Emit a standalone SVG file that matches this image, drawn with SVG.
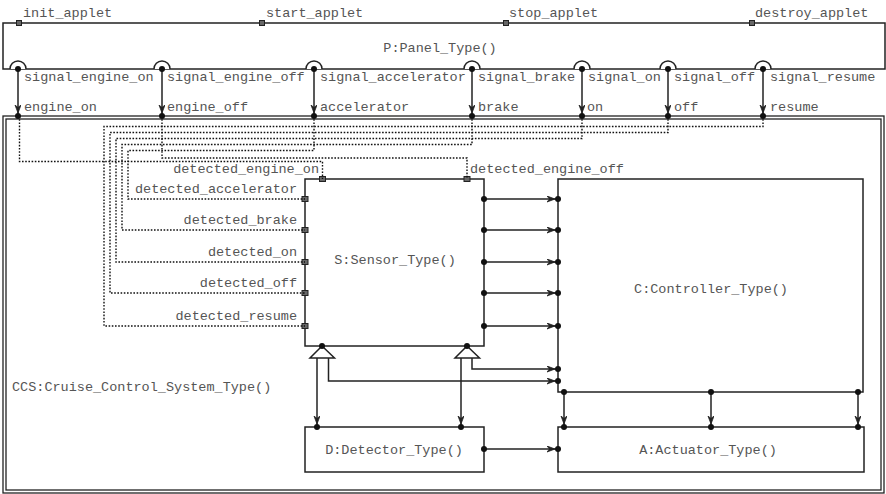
<svg xmlns="http://www.w3.org/2000/svg" width="886" height="494" viewBox="0 0 886 494">
<style>
text{font-family:"Liberation Mono","Courier New",monospace;font-size:13.5px;fill:#555}
.box{fill:#fff;stroke:#222;stroke-width:1.5}
.ln{fill:none;stroke:#222;stroke-width:1.5}
.dt{fill:none;stroke:#111;stroke-width:1.4;stroke-dasharray:1.6 1.6}
.dot{fill:#111}
.sq{fill:#666;stroke:#222;stroke-width:1}
.arc{fill:#fff;stroke:#222;stroke-width:1.5}
.end{text-anchor:end}
.mid{text-anchor:middle}
</style>
<defs>
<marker id="arr" markerUnits="userSpaceOnUse" markerWidth="14" markerHeight="8" refX="11" refY="3" orient="auto">
<path d="M0,0 L8,3 L0,6 L2.5,3 z" fill="#222" stroke="#222" stroke-width="0.8"/>
</marker>
</defs>

<g id="CCS">
<rect x="3" y="116" width="881" height="377" fill="#fff" stroke="#222" stroke-width="1.3"/>
<rect x="6" y="119" width="875" height="371" fill="none" stroke="#222" stroke-width="1.3"/>
<text x="12" y="391">CCS:Cruise_Control_System_Type()</text>
</g>

<g id="P">
<rect class="box" x="3" y="23" width="882" height="46"/>
<text class="mid" x="440" y="52">P:Panel_Type()</text>
<rect class="sq" x="16.5" y="20.5" width="5" height="5"/>
<rect class="sq" x="259.5" y="20.5" width="5" height="5"/>
<rect class="sq" x="503.5" y="20.5" width="5" height="5"/>
<rect class="sq" x="749.5" y="20.5" width="5" height="5"/>
<text x="23" y="17">init_applet</text>
<text x="266" y="17">start_applet</text>
<text x="509" y="17">stop_applet</text>
<text x="755" y="17">destroy_applet</text>
<path class="arc" d="M10,69 A8,8 0 0 1 26,69"/>
<path class="arc" d="M154,69 A8,8 0 0 1 170,69"/>
<path class="arc" d="M306,69 A8,8 0 0 1 322,69"/>
<path class="arc" d="M464,69 A8,8 0 0 1 480,69"/>
<path class="arc" d="M574,69 A8,8 0 0 1 590,69"/>
<path class="arc" d="M660,69 A8,8 0 0 1 676,69"/>
<path class="arc" d="M755,69 A8,8 0 0 1 771,69"/>
<text x="24" y="81">signal_engine_on</text>
<text x="167" y="81">signal_engine_off</text>
<text x="320" y="81">signal_accelerator</text>
<text x="478" y="81">signal_brake</text>
<text x="588" y="81">signal_on</text>
<text x="674" y="81">signal_off</text>
<text x="770" y="81">signal_resume</text>
</g>

<g id="S">
<rect class="box" x="305" y="179" width="179" height="167"/>
<text class="mid" x="395" y="264">S:Sensor_Type()</text>
<rect class="sq" x="319.5" y="176.5" width="6" height="5"/>
<rect class="sq" x="464" y="176.5" width="6" height="5"/>
<rect class="sq" x="302" y="196.5" width="6" height="5"/>
<rect class="sq" x="302" y="227.5" width="6" height="5"/>
<rect class="sq" x="302" y="259.5" width="6" height="5"/>
<rect class="sq" x="302" y="290.5" width="6" height="5"/>
<rect class="sq" x="302" y="323.5" width="6" height="5"/>
<text class="end" x="319" y="173">detected_engine_on</text>
<text x="470" y="173">detected_engine_off</text>
<text class="end" x="297" y="193">detected_accelerator</text>
<text class="end" x="297" y="224">detected_brake</text>
<text class="end" x="297" y="256">detected_on</text>
<text class="end" x="297" y="287">detected_off</text>
<text class="end" x="297" y="320">detected_resume</text>
<path class="arc" d="M322,346 L334.5,358 L310,358 z"/>
<path class="arc" d="M467,346 L479.5,358 L455,358 z"/>
</g>

<g id="C">
<rect class="box" x="558" y="179" width="305" height="213"/>
<text class="mid" x="711" y="293">C:Controller_Type()</text>
</g>

<g id="D">
<rect class="box" x="305" y="427" width="179" height="45"/>
<text class="mid" x="394" y="454">D:Detector_Type()</text>
</g>

<g id="A">
<rect class="box" x="558" y="427" width="306" height="45"/>
<text class="mid" x="708" y="454">A:Actuator_Type()</text>
</g>

<g id="connectors">
<path class="ln" d="M18,69 V116" marker-end="url(#arr)"/>
<path class="ln" d="M162,69 V116" marker-end="url(#arr)"/>
<path class="ln" d="M314,69 V116" marker-end="url(#arr)"/>
<path class="ln" d="M472,69 V116" marker-end="url(#arr)"/>
<path class="ln" d="M582,69 V116" marker-end="url(#arr)"/>
<path class="ln" d="M668,69 V116" marker-end="url(#arr)"/>
<path class="ln" d="M763,69 V116" marker-end="url(#arr)"/>
<text x="24" y="111">engine_on</text>
<text x="167" y="111">engine_off</text>
<text x="320" y="111">accelerator</text>
<text x="478" y="111">brake</text>
<text x="587" y="111">on</text>
<text x="674" y="111">off</text>
<text x="770" y="111">resume</text>

<path class="dt" d="M19.5,116 V161.5 H322.5 V179"/>
<path class="dt" d="M162,116 V158 H467 V179"/>
<path class="dt" d="M314,116 V150.5 H128 V199 H305"/>
<path class="dt" d="M472,116 V144.5 H122 V230 H305"/>
<path class="dt" d="M582,116 V138.5 H116 V262 H305"/>
<path class="dt" d="M668,116 V132.5 H110 V293 H305"/>
<path class="dt" d="M763,116 V126.5 H104 V326 H305"/>

<path class="ln" d="M484,199 H558" marker-end="url(#arr)"/>
<path class="ln" d="M484,230 H558" marker-end="url(#arr)"/>
<path class="ln" d="M484,262 H558" marker-end="url(#arr)"/>
<path class="ln" d="M484,293 H558" marker-end="url(#arr)"/>
<path class="ln" d="M484,326 H558" marker-end="url(#arr)"/>
<path class="ln" d="M472,358 V369 H558" marker-end="url(#arr)"/>
<path class="ln" d="M328.5,358 V381 H558" marker-end="url(#arr)"/>
<path class="ln" d="M317,358 V427" marker-end="url(#arr)"/>
<path class="ln" d="M461,358 V427" marker-end="url(#arr)"/>
<path class="ln" d="M484,449 H558" marker-end="url(#arr)"/>
<path class="ln" d="M564,392 V427" marker-end="url(#arr)"/>
<path class="ln" d="M711,392 V427" marker-end="url(#arr)"/>
<path class="ln" d="M858,392 V427" marker-end="url(#arr)"/>

<g class="dot">
<circle cx="18" cy="69" r="3"/><circle cx="162" cy="69" r="3"/><circle cx="314" cy="69" r="3"/><circle cx="472" cy="69" r="3"/><circle cx="582" cy="69" r="3"/><circle cx="668" cy="69" r="3"/><circle cx="763" cy="69" r="3"/>
<circle cx="18" cy="116" r="3"/><circle cx="162" cy="116" r="3"/><circle cx="314" cy="116" r="3"/><circle cx="472" cy="116" r="3"/><circle cx="582" cy="116" r="3"/><circle cx="668" cy="116" r="3"/><circle cx="763" cy="116" r="3"/>
<circle cx="484" cy="199" r="3"/><circle cx="484" cy="230" r="3"/><circle cx="484" cy="262" r="3"/><circle cx="484" cy="293" r="3"/><circle cx="484" cy="326" r="3"/>
<circle cx="558" cy="199" r="3"/><circle cx="558" cy="230" r="3"/><circle cx="558" cy="262" r="3"/><circle cx="558" cy="293" r="3"/><circle cx="558" cy="326" r="3"/><circle cx="558" cy="369" r="3"/><circle cx="558" cy="381" r="3"/>
<circle cx="322" cy="346" r="3"/><circle cx="467" cy="346" r="3"/>
<circle cx="317" cy="427" r="3"/><circle cx="461" cy="427" r="3"/>
<circle cx="484" cy="449" r="3"/><circle cx="558" cy="449" r="3"/>
<circle cx="564" cy="392" r="3"/><circle cx="711" cy="392" r="3"/><circle cx="858" cy="392" r="3"/>
<circle cx="564" cy="427" r="3"/><circle cx="711" cy="427" r="3"/><circle cx="858" cy="427" r="3"/>
</g>
</g>
</svg>
